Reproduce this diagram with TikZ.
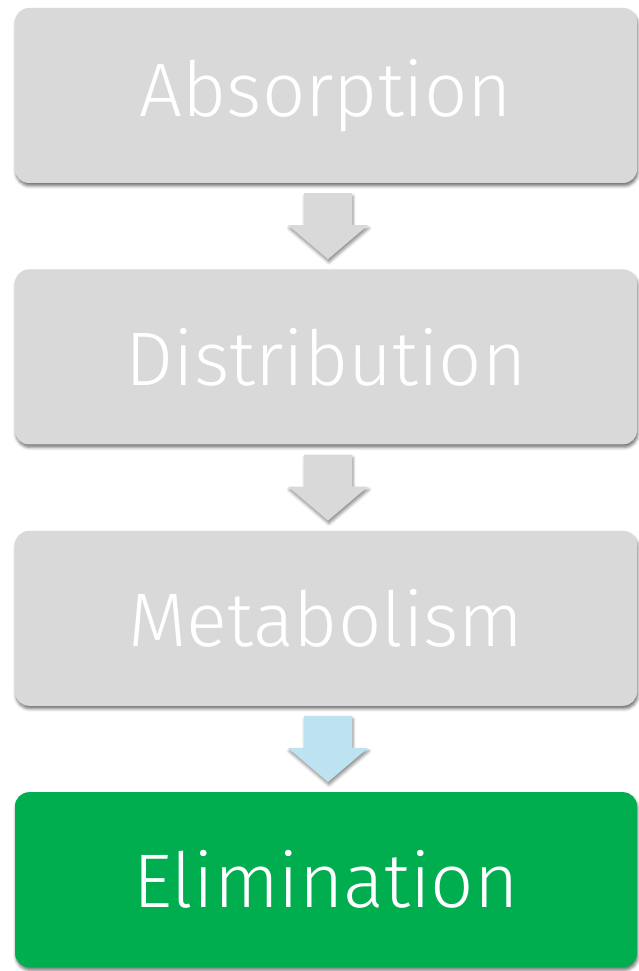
\documentclass[tikz,border=0pt]{standalone}
\usepackage{fontspec}
\setsansfont{Fira Sans Light}
\usepackage{xcolor}
\usetikzlibrary{positioning,shadows.blur}

\definecolor{boxgray}{HTML}{D9D9D9}
\definecolor{arrowblue}{HTML}{BDE3F1}
\definecolor{elimgreen}{HTML}{00AE4F}

\tikzset{
  stage/.style={rounded corners=14pt, minimum width=622pt, minimum height=175pt,
    text=white, font=\sffamily\fontsize{76}{92}\selectfont,
    blur shadow={shadow xshift=1pt, shadow yshift=-3pt, shadow blur radius=3pt, shadow opacity=55}},
  pics/downarrow/.style={code={
    \fill[#1, blur shadow={shadow xshift=1pt, shadow yshift=-3pt, shadow blur radius=3pt, shadow opacity=45}]
      (-24pt,33pt) -- (24pt,33pt) -- (24pt,1pt) -- (40pt,1pt) -- (0pt,-33pt)
      -- (-40pt,1pt) -- (-24pt,1pt) -- cycle;
  }}
}

\begin{document}
\begin{tikzpicture}[x=1pt, y=1pt, node distance=86pt]
    \useasboundingbox (0,0) rectangle (638,971);
    % -------------------------
    % Stages
    % -------------------------
    \node[stage, fill=boxgray] (abs) at (326, 875.5) {Absorption};
    \node[stage, fill=boxgray, below=of abs] (dis) {Distribution};
    \node[stage, fill=boxgray, below=of dis] (met) {Metabolism};
    \node[stage, fill=elimgreen, below=of met] (eli) {Elimination};

    % -------------------------
    % Arrows between stages
    % -------------------------
    \path (abs.south) -- (dis.north) coordinate[midway] (ad);
    \path (dis.south) -- (met.north) coordinate[midway] (dm);
    \path (met.south) -- (eli.north) coordinate[midway] (me);
    \pic at ([xshift=2pt]ad) {downarrow=boxgray};
    \pic at ([xshift=2pt]dm) {downarrow=boxgray};
    \pic at ([xshift=2pt]me) {downarrow=arrowblue};
\end{tikzpicture}
\end{document}
